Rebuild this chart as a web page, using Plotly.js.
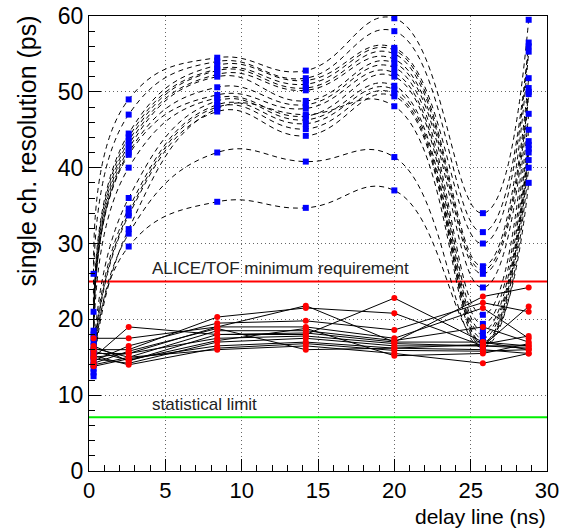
<!DOCTYPE html>
<html><head><meta charset="utf-8">
<script src="https://cdn.plot.ly/plotly-3.0.1.min.js"></script>
<style>html,body{margin:0;padding:0;background:#fff}#c{width:561px;height:529px}</style>
</head><body><div id="c"></div>
<script>
const delays = [0.3, 2.6, 8.4, 14.2, 20, 25.8, 28.8];

// "blue" channels (dashed, before correction)
const blue01 = [26, 49, 54.5, 52.8, 59.7, 34, 59.5];
const blue02 = [21, 47, 54, 51.8, 58, 31.5, 56.5];
const blue03 = [18.5, 44.5, 53.5, 51.5, 55.8, 30, 56];
const blue04 = [18, 44, 53, 51, 55.5, 27, 55.3];
const blue05 = [17.5, 43.5, 52.8, 50.5, 55, 26.5, 51.8];
const blue06 = [17, 43, 52.3, 50.2, 54.3, 26, 50.5];
const blue07 = [16.5, 42.5, 52, 48.8, 53.8, 24.2, 50];
const blue08 = [16, 42, 50.6, 48.3, 53.2, 20.6, 49.7];
const blue09 = [15.8, 41.7, 49.6, 47.8, 52.5, 19.4, 47.1];
const blue10 = [15.5, 40, 49.2, 46.8, 52, 18.5, 45];
const blue11 = [15.2, 36, 48.8, 46.3, 50.8, 18, 43.5];
const blue12 = [15, 34.6, 48.3, 45.8, 50.3, 17.5, 43];
const blue13 = [14.5, 34, 48, 45.1, 49.8, 17, 42.5];
const blue14 = [14, 33.7, 47.4, 44.2, 49.4, 16.8, 42];
const blue15 = [13.5, 31.9, 47.8, 47, 48.1, 16.5, 41];
const blue16 = [13, 31.3, 42, 40.8, 41.4, 16.3, 40];
const blue17 = [12.5, 29.6, 35.5, 34.7, 37, 17, 38];

// "red" channels (solid, after correction)
const red01 = [17.5, 17.5, 19, 21.8, 17, 23, 24.2];
const red02 = [15, 19, 18, 18, 22.8, 17, 16];
const red03 = [16, 16, 20.3, 21.5, 20.8, 16.5, 21.7];
const red04 = [14.5, 16.5, 19.5, 19.8, 18.6, 22.2, 21];
const red05 = [15.5, 15.5, 19, 19, 17.5, 21.5, 17.5];
const red06 = [14, 15, 18.5, 18.5, 17.2, 19, 17];
const red07 = [16.5, 14.5, 18, 18.2, 17, 17, 16.5];
const red08 = [15, 15.5, 17.5, 17.8, 16.8, 16.5, 16.5];
const red09 = [14.8, 14.2, 17, 17.5, 16.5, 16.5, 16.2];
const red10 = [13.8, 14.8, 16.5, 17, 16.2, 16, 15.5];
const red11 = [15.2, 14, 16.2, 16.8, 15.9, 15.8, 16];
const red12 = [16.2, 15, 16, 16.5, 15.5, 14.2, 15.5];
const red13 = [14.2, 15.8, 18.8, 16, 16.2, 16.7, 17.8];
const red14 = [15.8, 14.6, 17.2, 18.8, 15.2, 15.5, 16.8];

const requirement = 25;
const statLimit = 7.1;

const blues = [blue01,blue02,blue03,blue04,blue05,blue06,blue07,blue08,blue09,blue10,blue11,blue12,blue13,blue14,blue15,blue16,blue17];
const reds = [red01,red02,red03,red04,red05,red06,red07,red08,red09,red10,red11,red12,red13,red14];

const traces = [];
traces.push({x:[0,30], y:[requirement,requirement], mode:'lines', line:{color:'#ff0000', width:2}, hoverinfo:'skip'});
traces.push({x:[0,30], y:[statLimit,statLimit], mode:'lines', line:{color:'#00ee00', width:2}, hoverinfo:'skip'});
blues.forEach(b => traces.push({x:delays, y:b, mode:'lines', line:{color:'#000', width:1, dash:'5px,4px', shape:'spline', smoothing:1.3}}));
reds.forEach(r => traces.push({x:delays, y:r, mode:'lines', line:{color:'#000', width:1}}));
blues.forEach(b => traces.push({x:delays, y:b, mode:'markers', marker:{symbol:'square', size:6, color:'#0000ff'}}));
reds.forEach(r => traces.push({x:delays, y:r, mode:'markers', marker:{symbol:'circle', size:6, color:'#ff0000'}}));

const F = 'Liberation Sans, Arial, sans-serif';
const layout = {
  width:561, height:529, showlegend:false,
  margin:{l:89, r:14, t:16, b:58},
  paper_bgcolor:'#fff', plot_bgcolor:'#fff',
  xaxis:{range:[0,30], tickvals:[0,5,10,15,20,25,30], ticks:'inside', ticklen:12, tickwidth:1, tickcolor:'#000',
    minor:{dtick:1, ticks:'inside', ticklen:6, tickcolor:'#000', showgrid:false},
    showline:true, linecolor:'#000', linewidth:1, mirror:true,
    showgrid:true, gridcolor:'#666', griddash:'1px,3px', gridwidth:1, zeroline:false,
    tickfont:{family:F, size:22, color:'#000'}},
  yaxis:{range:[0,60], tickvals:[0,10,20,30,40,50,60], ticks:'inside', ticklen:12, tickwidth:1, tickcolor:'#000',
    minor:{dtick:2, ticks:'inside', ticklen:6, tickcolor:'#000', showgrid:false},
    showline:true, linecolor:'#000', linewidth:1, mirror:true,
    showgrid:true, gridcolor:'#666', griddash:'1px,3px', gridwidth:1, zeroline:false,
    tickfont:{family:F, size:23, color:'#000'}},
  annotations:[
    {text:'ALICE/TOF minimum requirement', x:4, y:26.7, xref:'x', yref:'y', xanchor:'left', yanchor:'middle', showarrow:false, font:{family:F, size:17, color:'#222'}},
    {text:'statistical limit', x:4, y:8.8, xref:'x', yref:'y', xanchor:'left', yanchor:'middle', showarrow:false, font:{family:F, size:17, color:'#222'}},
    {text:'single ch. resolution (ps)', textangle:-90, xref:'paper', yref:'paper', x:-0.135, y:1.005, xanchor:'center', yanchor:'top', showarrow:false, font:{family:F, size:25, color:'#000'}},
    {text:'delay line (ns)', xref:'paper', yref:'paper', x:1.0, y:-0.1275, xanchor:'right', yanchor:'bottom', borderpad:0, showarrow:false, font:{family:F, size:21, color:'#000'}}
  ]
};
Plotly.newPlot('c', traces, layout, {displayModeBar:false, staticPlot:true});
</script></body></html>
